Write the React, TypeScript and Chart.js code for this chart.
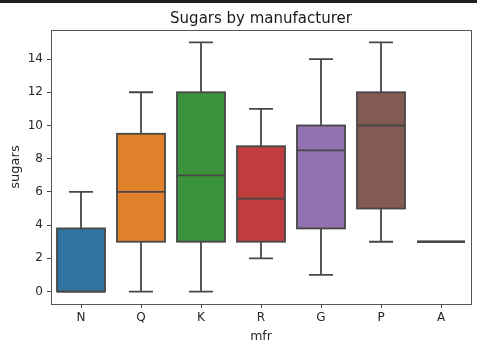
import React, { useEffect, useRef } from 'react';
import { Chart, registerables } from 'chart.js';

Chart.register(...registerables);

const categories = ['N', 'Q', 'K', 'R', 'G', 'P', 'A'];
const mins = [0, 0, 0, 2, 1, 3, 3];
const q1s = [0, 3, 3, 3, 3.8, 5, 3];
const medians = [0, 6, 7, 5.6, 8.5, 10, 3];
const q3s = [3.8, 9.5, 12, 8.75, 10, 12, 3];
const maxs = [6, 12, 15, 11, 14, 15, 3];
const colors = ['#3274a1', '#e1812c', '#3a923a', '#c03d3e', '#9372b2', '#845b53', '#d684bd'];
const yTicks = [0, 2, 4, 6, 8, 10, 12, 14];

const LINE = '#474747';
const FONT = "'DejaVu Sans', sans-serif";

const boxPlugin = {
  id: 'boxWhiskers',
  afterDatasetsDraw(chart: any) {
    const ctx = chart.ctx;
    const xs = chart.scales.x;
    const ys = chart.scales.y;
    const meta = chart.getDatasetMeta(0);
    ctx.save();
    ctx.strokeStyle = LINE;
    ctx.lineCap = 'butt';
    categories.forEach((_, i) => {
      const cx = xs.getPixelForValue(i);
      const half = meta.data[i].width / 2;
      const capHalf = half / 2;
      const yMin = ys.getPixelForValue(mins[i]);
      const yQ1 = ys.getPixelForValue(q1s[i]);
      const yMed = ys.getPixelForValue(medians[i]);
      const yQ3 = ys.getPixelForValue(q3s[i]);
      const yMax = ys.getPixelForValue(maxs[i]);
      ctx.lineWidth = 1.8;
      ctx.beginPath();
      ctx.moveTo(cx, yQ3);
      ctx.lineTo(cx, yMax);
      ctx.moveTo(cx, yQ1);
      ctx.lineTo(cx, yMin);
      if (maxs[i] !== q3s[i]) {
        ctx.moveTo(cx - capHalf, yMax);
        ctx.lineTo(cx + capHalf, yMax);
      }
      if (mins[i] !== q1s[i]) {
        ctx.moveTo(cx - capHalf, yMin);
        ctx.lineTo(cx + capHalf, yMin);
      }
      ctx.stroke();
      ctx.lineWidth = 1.8;
      ctx.strokeRect(cx - half, yQ3, half * 2, yQ1 - yQ3);
      ctx.beginPath();
      ctx.lineWidth = q1s[i] === q3s[i] ? 2.6 : 1.8;
      ctx.moveTo(cx - half, yMed);
      ctx.lineTo(cx + half, yMed);
      ctx.stroke();
    });
    ctx.restore();
  },
  afterDraw(chart: any) {
    const ctx = chart.ctx;
    const a = chart.chartArea;
    ctx.save();
    ctx.strokeStyle = '#555555';
    ctx.lineWidth = 1;
    ctx.strokeRect(Math.round(a.left) + 0.5, Math.round(a.top) + 0.5, Math.round(a.right - a.left), Math.round(a.bottom - a.top));
    ctx.restore();
  },
};

export default function App() {
  const ref = useRef<HTMLCanvasElement>(null);
  useEffect(() => {
    if (!ref.current) return;
    const chart = new Chart(ref.current, {
      type: 'bar',
      data: {
        labels: categories,
        datasets: [
          {
            data: categories.map((_, i) => [q1s[i], q3s[i]]) as any,
            backgroundColor: colors,
            borderWidth: 0,
            categoryPercentage: 0.8,
            barPercentage: 1,
          },
        ],
      },
      options: {
        responsive: false,
        animation: false,
        layout: { padding: { left: 0, right: 6, top: 0, bottom: 0 } },
        plugins: {
          legend: { display: false },
          tooltip: { enabled: false },
          title: {
            display: true,
            fullSize: false,
            text: 'Sugars by manufacturer',
            color: '#1a1a1a',
            font: { family: FONT, size: 15, weight: 'normal', lineHeight: 1.2 },
            padding: { top: 10, bottom: 2 },
          },
        },
        scales: {
          x: {
            type: 'category',
            offset: true,
            border: { display: false },
            grid: { display: true, offset: false, drawOnChartArea: false, drawTicks: true, tickLength: 4, color: '#444', lineWidth: 1 },
            ticks: { color: '#262626', font: { family: FONT, size: 12 }, padding: 3, maxRotation: 0 },
            title: {
              display: true,
              text: 'mfr',
              color: '#262626',
              font: { family: FONT, size: 12.5, lineHeight: 1.2 },
              padding: { top: 0, bottom: 6 },
            },
            afterFit(scale: any) {
              scale.height = 46;
            },
          },
          y: {
            min: -0.75,
            max: 15.75,
            border: { display: false },
            grid: { display: true, drawOnChartArea: false, drawTicks: true, tickLength: 4, color: '#444', lineWidth: 1 },
            ticks: { color: '#262626', font: { family: FONT, size: 12 }, padding: 4 },
            afterBuildTicks(scale: any) {
              scale.ticks = yTicks.map((v) => ({ value: v }));
            },
            title: {
              display: true,
              text: 'sugars',
              color: '#262626',
              font: { family: FONT, size: 13, lineHeight: 1.2 },
              padding: { top: 8, bottom: 0 },
            },
            afterFit(scale: any) {
              scale.width = 51;
            },
          },
        },
      },
      plugins: [boxPlugin],
    } as any);
    return () => chart.destroy();
  }, []);
  return (
    <div style={{ position: 'fixed', left: 0, top: 0, width: 477, height: 350, background: '#fff' }}>
      <canvas ref={ref} width={477} height={350} style={{ display: 'block' }} />
      <div style={{ position: 'absolute', left: 0, top: 0, width: 477, height: 3, background: '#1e1e1e' }} />
    </div>
  );
}
